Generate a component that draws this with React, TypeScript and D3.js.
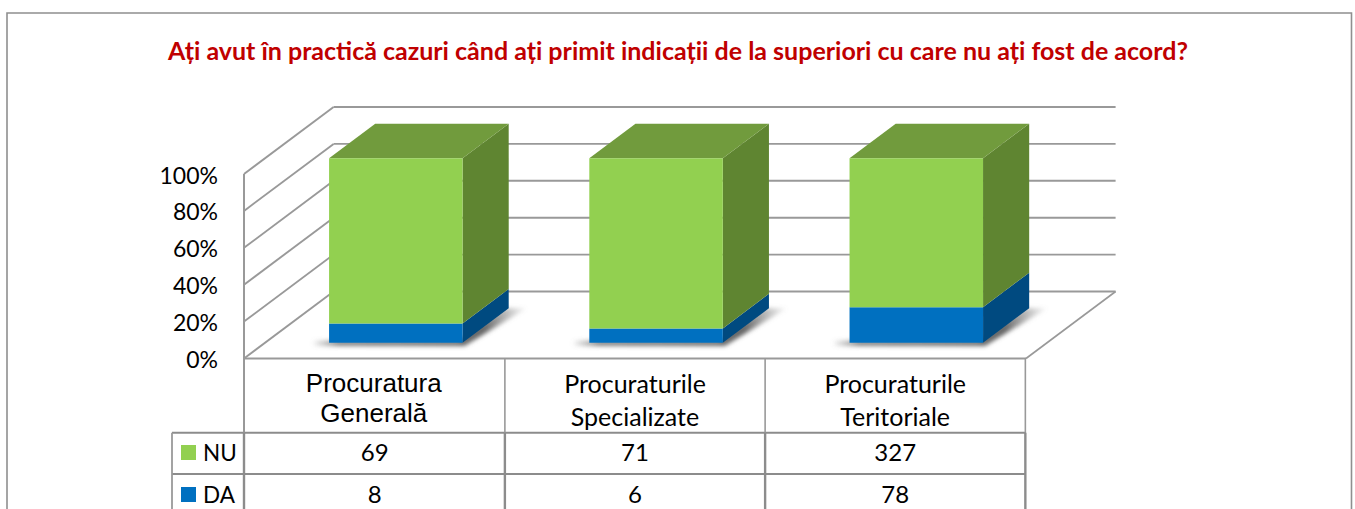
import React from "react";
import * as d3 from "d3";

const titleText = "Ați avut în practică cazuri când ați primit indicații de la superiori cu care nu ați fost de acord?";
const categories = ["Procuratura Generală", "Procuraturile Specializate", "Procuraturile Teritoriale"];
const categoryLines = [["Procuratura", "Generală"], ["Procuraturile", "Specializate"], ["Procuraturile", "Teritoriale"]];
const nuValues = [69, 71, 327];
const daValues = [8, 6, 78];
const gridTicks = [0, 0.2, 0.4, 0.6, 0.8, 1];
const seriesNames = ["NU", "DA"];

const x = d3.scaleBand<string>().domain(categories).range([244, 1026]).paddingInner(0.487).paddingOuter(0.246);
const wallY = d3.scaleLinear().domain([0, 1]).range([358.5, 174]);
const depthDX = 89.6;
const depthDY = 67;
const barDepthFront = 0.235;
const barDepthBack = 0.75;
const pX = (v: number, depth: number) => v + depth * depthDX;
const pY = (v: number, depth: number) => wallY(v) - depth * depthDY;
const pt = (a: number, v: number, depth: number) => `${pX(a, depth)},${pY(v, depth)}`;

const GRID = "#999999";
const TABLE = "#8c8c8c";
const sans = "Lato, Carlito, 'Open Sans', sans-serif";

const green = { front: "#92D050", top: "#719B3D", side: "#5F8531" };
const blue = { front: "#0070C0", top: "#00538E", side: "#004A80" };

function Box({ x0, x1, v0, v1, c, showTop }: { x0: number; x1: number; v0: number; v1: number; c: typeof green; showTop: boolean }) {
  const f = barDepthFront;
  const b = barDepthBack;
  return (
    <g>
      <polygon points={[pt(x1, v0, f), pt(x1, v0, b), pt(x1, v1, b), pt(x1, v1, f)].join(" ")} fill={c.side} />
      {showTop && <polygon points={[pt(x0, v1, f), pt(x0, v1, b), pt(x1, v1, b), pt(x1, v1, f)].join(" ")} fill={c.top} />}
      <polygon points={[pt(x0, v0, f), pt(x1, v0, f), pt(x1, v1, f), pt(x0, v1, f)].join(" ")} fill={c.front} />
    </g>
  );
}

export default function App() {
  const tableRows = [432.7, 474];
  const colEdges = [244, ...categories.map((c) => (x(c) as number) + x.bandwidth() + (x.step() - x.bandwidth()) / 2)];
  const centers = categories.map((c) => (x(c) as number) + x.bandwidth() / 2);
  const rowValues = [nuValues, daValues];
  const rowColors = [green.front, blue.front];
  const rowKeyY = [445, 487];
  const rowBase = [461, 503];
  return (
    <svg width={1355} height={509} viewBox="0 0 1355 509" style={{ position: "absolute", left: 0, top: 0, background: "#fff" }}>
      <defs>
        <filter id="sh" x="-20%" y="-40%" width="140%" height="180%">
          <feGaussianBlur stdDeviation="2" />
        </filter>
        <linearGradient id="shg" x1="0" x2="1" y1="0" y2="0">
          <stop offset="0" stopColor="#777" stopOpacity="0.05" />
          <stop offset="0.12" stopColor="#777" stopOpacity="0.9" />
          <stop offset="0.8" stopColor="#666" stopOpacity="1" />
          <stop offset="1" stopColor="#888" stopOpacity="0.05" />
        </linearGradient>
      </defs>
      <path d="M7,509V13H1351.5V509" fill="none" stroke="#8f8f8f" strokeWidth={1.6} />
      <text x={678} y={60} textAnchor="middle" fontFamily={sans} fontWeight={700} fontSize={25} fill="#C00000">{titleText}</text>

      {gridTicks.map((t) => (
        <g key={t} stroke={GRID} strokeWidth={1.9} fill="none">
          <line x1={pX(244, 0)} y1={pY(t, 0)} x2={pX(244, 1)} y2={pY(t, 1)} />
          <line x1={pX(244, 1)} y1={pY(t, 1)} x2={pX(1026, 1)} y2={pY(t, 1)} />
        </g>
      ))}
      <line x1={244} y1={wallY(1)} x2={244} y2={509} stroke={GRID} strokeWidth={2} />
      <line x1={244} y1={wallY(0)} x2={1026} y2={wallY(0)} stroke={GRID} strokeWidth={1.9} />
      <line x1={1026} y1={wallY(0)} x2={pX(1026, 1)} y2={pY(0, 1)} stroke={GRID} strokeWidth={1.6} />

      {gridTicks.map((t) => (
        <text key={t} x={218} y={wallY(t) + 9.5} textAnchor="end" fontFamily={sans} fontSize={23} fill="#000">
          {`${Math.round(t * 100)}%`}
        </text>
      ))}

      {categories.map((c, i) => {
        const total = nuValues[i] + daValues[i];
        const share = d3.scaleLinear().domain([0, total]).range([0, 1]);
        const x0 = x(c) as number;
        const x1 = x0 + x.bandwidth();
        const v = share(daValues[i]);
        const f = barDepthFront;
        const shadow = [
          [x0 - 16, -0.018, f],
          [x1 + 2, -0.018, f],
          [x1 + 18, 0, barDepthBack],
          [x1 - 4, 0, barDepthBack],
          [x1 - 4, 0.012, f],
          [x0 - 16, 0.012, f],
        ].map((p) => pt(p[0], p[1], p[2])).join(" ");
        return (
          <g key={c}>
            <polygon points={shadow} fill="url(#shg)" filter="url(#sh)" />
            <Box x0={x0} x1={x1} v0={0} v1={v} c={blue} showTop={false} />
            <Box x0={x0} x1={x1} v0={v} v1={1} c={green} showTop={true} />
          </g>
        );
      })}

      {tableRows.map((y) => (
        <line key={y} x1={172} y1={y} x2={1026} y2={y} stroke={TABLE} strokeWidth={2} />
      ))}
      <line x1={172} y1={432.7} x2={172} y2={509} stroke={GRID} strokeWidth={1.8} />
      {colEdges.map((e, i) => (
        <g key={i}>
          <line x1={e} y1={358.5} x2={e} y2={432.7} stroke={GRID} strokeWidth={1.6} />
          <line x1={e} y1={432.7} x2={e} y2={509} stroke={TABLE} strokeWidth={2.4} />
        </g>
      ))}

      {categoryLines.map((lines, i) =>
        lines.map((ln, j) =>
          i === 0 ? (
            <text key={ln} x={centers[i] - 1} y={392 + j * 30} textAnchor="middle" fontFamily="'Liberation Sans', Arial, sans-serif" fontSize={26} fill="#000">{ln}</text>
          ) : (
            <text key={ln} x={centers[i]} y={393 + j * 33} textAnchor="middle" fontFamily={sans} fontSize={25} fill="#000">{ln}</text>
          )
        )
      )}

      {seriesNames.map((s, r) => (
        <g key={s}>
          <rect x={181} y={rowKeyY[r]} width={15} height={15} fill={rowColors[r]} />
          <text x={203} y={rowBase[r]} fontFamily={sans} fontSize={22.5} fill="#000">{s}</text>
          {rowValues[r].map((v, i) => (
            <text key={i} x={centers[i]} y={rowBase[r]} textAnchor="middle" fontFamily={sans} fontSize={24} fill="#000">{v}</text>
          ))}
        </g>
      ))}
    </svg>
  );
}
